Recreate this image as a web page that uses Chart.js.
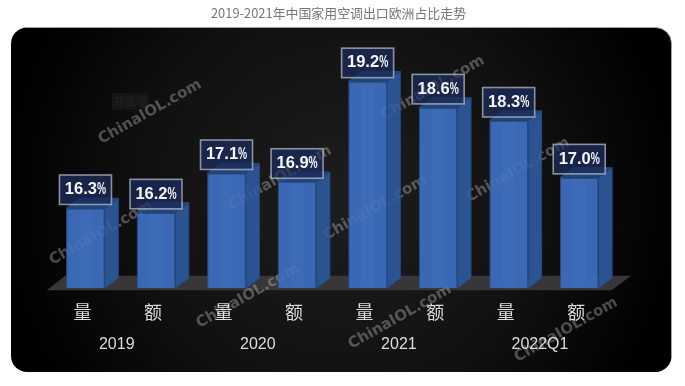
<!DOCTYPE html>
<html lang="en">
<head>
    <meta charset="utf-8">
    <title>2019-2021年中国家用空调出口欧洲占比走势</title>
    <script src="https://cdn.jsdelivr.net/npm/chart.js"></script>
    <style>
        html, body { margin: 0; padding: 0; background: #fff; }
        #chartContainer { width: 685px; height: 386px; }
    </style>
</head>
<body>

<div id="chartContainer">
    <canvas id="shareChart" width="685" height="386"></canvas>
</div>

<script>
const titleText = '2019-2021年中国家用空调出口欧洲占比走势';
const categories = ['量', '额', '量', '额', '量', '额', '量', '额'];
const years = ['2019', '2020', '2021', '2022Q1'];
const shareValues = [16.3, 16.2, 17.1, 16.9, 19.2, 18.6, 18.3, 17.0];
const watermarkText = 'ChinaIOL.com';

// depth of the fake 3D bars, px
const DX = 13.5;
const DY = 10;
const AXIS_MIN = 14.47;

function drawWatermarks(ctx, alpha) {
    const spots = [[150, 112], [101, 233], [248, 296], [280, 178], [375, 208],
                   [433, 88], [518, 170], [400, 317], [566, 330]];
    ctx.save();
    ctx.font = 'bold 15px "DejaVu Sans"';
    ctx.textAlign = 'center';
    ctx.textBaseline = 'middle';
    ctx.fillStyle = 'rgba(255, 255, 255, ' + alpha + ')';
    spots.forEach(p => {
        ctx.save();
        ctx.translate(p[0], p[1]);
        ctx.rotate(-29.5 * Math.PI / 180);
        ctx.fillText(watermarkText, 0, 0);
        ctx.restore();
    });
    ctx.restore();
}

// Dark rounded panel behind the chart
const panelPlugin = {
    id: 'panel',
    beforeDraw(chart) {
        const ctx = chart.ctx;
        ctx.save();
        const grad = ctx.createRadialGradient(342, 200, 20, 342, 200, 340);
        grad.addColorStop(0, '#1c1c1c');
        grad.addColorStop(0.55, '#111111');
        grad.addColorStop(1, '#000000');
        ctx.beginPath();
        ctx.roundRect(11, 27.5, 660.5, 344.5, 16);
        ctx.fillStyle = grad;
        ctx.fill();

        // only the top and right edges show a light line
        ctx.beginPath();
        ctx.moveTo(27, 27.5);
        ctx.lineTo(655.5, 27.5);
        ctx.arcTo(671.5, 27.5, 671.5, 43.5, 16);
        ctx.lineTo(671.5, 356);
        ctx.strokeStyle = '#a8a8a8';
        ctx.lineWidth = 0.8;
        ctx.stroke();

        // faint leftover tag in the top left
        ctx.fillStyle = '#151515';
        ctx.fillRect(112, 93, 37, 17);
        ctx.fillStyle = '#242424';
        ctx.font = '11px "Noto Sans CJK SC"';
        ctx.textAlign = 'center';
        ctx.textBaseline = 'middle';
        ctx.fillText('背面墙', 130.5, 101.5);
        ctx.restore();
    }
};

// Floor and the side/top faces of the bars
const depthPlugin = {
    id: 'depth',
    beforeDatasetsDraw(chart) {
        const ctx = chart.ctx;
        const area = chart.chartArea;
        ctx.save();
        ctx.fillStyle = '#383636';
        ctx.beginPath();
        ctx.moveTo(area.left - 3.5, area.bottom + 2);
        ctx.lineTo(area.right - 3, area.bottom + 2);
        ctx.lineTo(area.right + 16.5, area.bottom - 12.6);
        ctx.lineTo(area.left + 15, area.bottom - 12.6);
        ctx.closePath();
        ctx.fill();

        drawWatermarks(ctx, 0.24);

        chart.getDatasetMeta(0).data.forEach(bar => {
            const right = bar.x + bar.width / 2;
            const left = bar.x - bar.width / 2;
            // side face
            ctx.fillStyle = '#2c5391';
            ctx.strokeStyle = '#24467c';
            ctx.lineWidth = 1;
            ctx.beginPath();
            ctx.moveTo(right, bar.y);
            ctx.lineTo(right + DX, bar.y - DY);
            ctx.lineTo(right + DX, bar.base - DY);
            ctx.lineTo(right, bar.base);
            ctx.closePath();
            ctx.fill();
            ctx.stroke();
            // top face
            ctx.fillStyle = '#234679';
            ctx.beginPath();
            ctx.moveTo(left, bar.y);
            ctx.lineTo(left + DX, bar.y - DY);
            ctx.lineTo(right + DX, bar.y - DY);
            ctx.lineTo(right, bar.y);
            ctx.closePath();
            ctx.fill();
            ctx.stroke();
        });
        ctx.restore();
    }
};

// Value boxes above the bars and the watermark on top of everything
const overlayPlugin = {
    id: 'overlay',
    afterDatasetsDraw(chart) {
        const ctx = chart.ctx;
        ctx.save();
        chart.getDatasetMeta(0).data.forEach((bar, i) => {
            // faint lighter band down the middle of the front face
            ctx.fillStyle = 'rgba(255, 255, 255, 0.025)';
            ctx.fillRect(bar.x - bar.width / 6, bar.y + 1, bar.width / 3, bar.base - bar.y - 2);

            const boxW = 52;
            const boxH = 29.5;
            const boxX = bar.x - boxW / 2;
            const boxY = bar.y - 3.8 - boxH;
            ctx.fillStyle = 'rgba(27, 44, 88, 0.78)';
            ctx.fillRect(boxX, boxY, boxW, boxH);
            ctx.strokeStyle = 'rgba(190, 196, 208, 0.7)';
            ctx.lineWidth = 1.6;
            ctx.strokeRect(boxX, boxY, boxW, boxH);

            // the % sign is squeezed in the original
            const num = shareValues[i].toFixed(1);
            ctx.font = 'bold 16.5px "Liberation Sans"';
            ctx.fillStyle = '#f4f6fa';
            ctx.textAlign = 'left';
            ctx.textBaseline = 'middle';
            const numW = ctx.measureText(num).width;
            const pctScale = 0.62;
            const pctW = ctx.measureText('%').width * pctScale;
            const startX = bar.x - (numW + pctW) / 2;
            const midY = boxY + boxH / 2;
            ctx.fillText(num, startX, midY);
            ctx.save();
            ctx.translate(startX + numW, midY);
            ctx.scale(pctScale, 1);
            ctx.fillText('%', 0, 0);
            ctx.restore();
        });
        ctx.restore();
    },
    afterDraw(chart) {
        drawWatermarks(chart.ctx, 0.05);
    }
};

const hiddenAxis = {
    display: true,
    ticks: { display: false },
    grid: { display: false },
    border: { display: false }
};

new Chart(document.getElementById('shareChart').getContext('2d'), {
    type: 'bar',
    data: {
        labels: categories,
        datasets: [{
            label: '占比',
            data: shareValues,
            base: AXIS_MIN,
            backgroundColor: '#3a68b4',
            borderColor: '#284d8c',
            borderWidth: 1,
            categoryPercentage: 0.55,
            barPercentage: 1
        }]
    },
    options: {
        responsive: false,
        animation: false,
        layout: { padding: { left: 0, right: 8, top: 0, bottom: 0 } },
        plugins: {
            legend: { display: false },
            tooltip: { enabled: false },
            title: {
                display: true,
                text: titleText,
                color: '#777777',
                font: { family: '"Noto Sans CJK SC"', size: 12.9, weight: 'normal' },
                padding: { top: 5, bottom: 26 }
            }
        },
        scales: {
            x: {
                grid: { display: false },
                border: { display: false },
                ticks: {
                    color: '#dcdcdc',
                    padding: 5.5,
                    labelOffset: -3,
                    maxRotation: 0,
                    autoSkip: false,
                    font: { family: '"Noto Sans CJK SC"', size: 18 }
                },
                afterFit(s) { s.height = 35; }
            },
            x2: {
                type: 'category',
                labels: years,
                position: 'bottom',
                grid: { display: false },
                border: { display: false },
                ticks: {
                    color: '#dcdcdc',
                    padding: 4,
                    labelOffset: -4,
                    maxRotation: 0,
                    font: { family: '"Liberation Sans"', size: 16 }
                },
                afterFit(s) { s.height = 62.7; }
            },
            y: {
                ...hiddenAxis,
                min: AXIS_MIN,
                max: 20,
                afterFit(s) { s.width = 50.2; }
            },
            y2: {
                ...hiddenAxis,
                position: 'right',
                afterFit(s) { s.width = 62.5; }
            }
        }
    },
    plugins: [panelPlugin, depthPlugin, overlayPlugin]
});
</script>

</body>
</html>
